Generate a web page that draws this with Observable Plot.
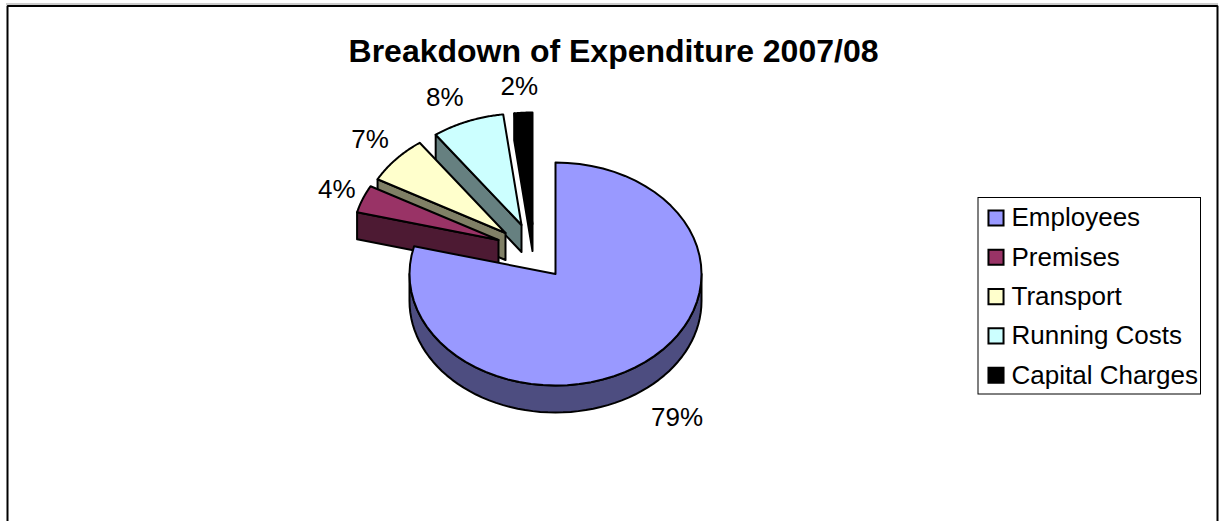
<!DOCTYPE html>
<html>
<head>
<meta charset="utf-8">
<script src="https://cdn.jsdelivr.net/npm/d3@7"></script>
<script src="https://cdn.jsdelivr.net/npm/@observablehq/plot@0.6"></script>
<style>
html,body{margin:0;padding:0;background:#fff;overflow:hidden}
svg{display:block}
</style>
</head>
<body>
<div id="chart"></div>
<script>
const categories = ["Employees", "Premises", "Transport", "Running Costs", "Capital Charges"];
const shares = [79, 4, 7, 8, 2];
const topColors = ["#9999FF", "#993366", "#FFFFCC", "#CCFFFF", "#000000"];
const sideColors = ["#4D4D80", "#4D1A33", "#808066", "#668080", "#000000"];
const titleText = "Breakdown of Expenditure 2007/08";

// layout
const W = 1220, H = 521;
const cx = 555, cy = 273.5, rx = 146, ry = 111.5, depth = 27;
const explodeX = [0, -57, -50, -34, -23];
const explodeY = [0, -34, -41, -49, -50];
const labelDX = [32, -26, -26, -23, -4];
const labelDY = [56, -9, -20, -24, -26];
const fontFamily = "'Liberation Sans', Arial, sans-serif";

const arcs = d3.pie().sort(null).value(d => d)(shares);
const px = (i, a, k = 1) => cx + explodeX[i] + k * rx * Math.sin(a);
const py = (i, a, k = 1) => cy + explodeY[i] - k * ry * Math.cos(a);
const sweep = (a0, a1) => d3.range(0, 61).map(t => a0 + (a1 - a0) * t / 60);

const polys = [];
// draw from back to front
[4, 3, 2, 1, 0].forEach(i => {
  const {startAngle: a0, endAngle: a1} = arcs[i];
  const ax = cx + explodeX[i], ay = cy + explodeY[i];
  if (i === 0) {
    const lo = Math.PI / 2, hi = 3 * Math.PI / 2;
    const outer = sweep(lo, hi);
    polys.push({color: sideColors[i], pts: [
      ...outer.map(a => ({x: px(i, a), y: py(i, a)})),
      ...outer.slice().reverse().map(a => ({x: px(i, a), y: py(i, a) + depth}))
    ]});
  } else {
    // radial wall along the slice's start edge, faces the viewer
    polys.push({color: sideColors[i], pts: [
      {x: ax, y: ay},
      {x: px(i, a0), y: py(i, a0)},
      {x: px(i, a0), y: py(i, a0) + depth},
      {x: ax, y: ay + depth}
    ]});
  }
  polys.push({color: topColors[i], pts: [
    {x: ax, y: ay},
    ...sweep(a0, a1).map(a => ({x: px(i, a), y: py(i, a)}))
  ]});
});

const labels = arcs.map((d, i) => {
  const m = (d.startAngle + d.endAngle) / 2;
  return {x: px(i, m) + labelDX[i], y: py(i, m) + labelDY[i], t: shares[i] + "%"};
});

const legendX = 995.5, legendY0 = 217.5, legendStep = 39.3;
const legend = categories.map((c, i) => ({
  name: c, color: topColors[i], x: legendX, y: legendY0 + i * legendStep
}));

const chart = Plot.plot({
  width: W, height: H,
  margin: 0,
  style: {background: "#fff", fontFamily},
  x: {domain: [0, W], range: [0, W], axis: null},
  y: {domain: [0, H], range: [0, H], axis: null},
  marks: [
    Plot.ruleY([3.5], {x1: 6, x2: 1218, stroke: "#999", strokeWidth: 1}),
    Plot.line([{x: 7, y: H}, {x: 7, y: 5.5}, {x: 1217, y: 5.5}, {x: 1217, y: H}],
      {x: "x", y: "y", stroke: "#000", strokeWidth: 2, strokeLinejoin: "miter"}),
    ...polys.map(p => Plot.line(p.pts, {
      x: "x", y: "y", fill: p.color, stroke: "#000", strokeWidth: 2,
      curve: "linear-closed"
    })),
    Plot.text(labels, {x: "x", y: "y", text: "t", fontSize: 26, fill: "#000", textAnchor: "middle", lineAnchor: "middle"}),
    Plot.text([titleText], {x: () => 613, y: () => 51, text: d => d, fontSize: 32, fontWeight: "bold", fill: "#000", textAnchor: "middle", lineAnchor: "middle"}),
    Plot.rect([0], {x1: () => 978, x2: () => 1200.5, y1: () => 197.5, y2: () => 394, fill: "#fff", stroke: "#000", strokeWidth: 1}),
    Plot.dot(legend, {x: "x", y: "y", symbol: "square", r: 8.5, fill: "color", stroke: "#000", strokeWidth: 2}),
    Plot.text(legend, {x: () => 1011, y: "y", text: "name", fontSize: 26, fill: "#000", textAnchor: "start", lineAnchor: "middle"})
  ]
});
document.getElementById("chart").appendChild(chart);
</script>
</body>
</html>
